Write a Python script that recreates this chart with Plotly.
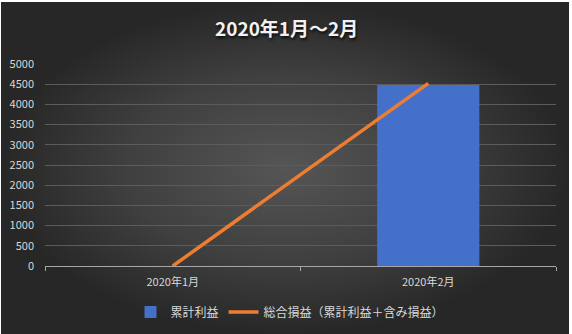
import plotly.graph_objects as go

W, H = 572, 334

categories = ["2020年1月", "2020年2月"]
cumulative_profit = [0, 4480]
total_pnl = [0, 4520]
y_ticks = [0, 500, 1000, 1500, 2000, 2500, 3000, 3500, 4000, 4500, 5000]

title_text = "2020年1月～2月"
bar_name = "累計利益"
line_name = "総合損益（累計利益＋含み損益）"

FONT = "Noto Sans CJK JP"
TXT = "#d9d9d9"

fig = go.Figure()

# decorative background panel with radial gradient (on a hidden full-page axis pair)
fig.add_trace(go.Scatter(
    x=[1, 569, 569, 1, 1], y=[0, 0, 332, 332, 0],
    xaxis="x", yaxis="y", mode="lines", line=dict(width=0),
    fill="toself",
    fillgradient=dict(type="radial",
                      colorscale=[[0, "#555555"], [0.55, "#404040"], [1, "#272727"]]),
    showlegend=False, hoverinfo="skip"))

fig.add_trace(go.Bar(
    x=categories, y=cumulative_profit, name=bar_name,
    xaxis="x2", yaxis="y2", width=0.4,
    marker=dict(color="#4470c9", line=dict(width=0))))

fig.add_trace(go.Scatter(
    x=categories, y=total_pnl, name=line_name,
    xaxis="x2", yaxis="y2", mode="lines",
    line=dict(color="#ed7d31", width=3.5)))

x0, x1 = 45 / W, 556 / W
yb, yt = (H - 266) / H, (H - 64) / H

fig.update_layout(
    width=W, height=H,
    margin=dict(l=0, r=0, t=0, b=0, autoexpand=False),
    paper_bgcolor="white", plot_bgcolor="rgba(0,0,0,0)",
    font=dict(family=FONT, color=TXT, size=11),
    showlegend=True,
    xaxis=dict(domain=[0, 1], range=[0, W], visible=False, fixedrange=True),
    yaxis=dict(domain=[0, 1], range=[0, H], visible=False, fixedrange=True),
    xaxis2=dict(domain=[x0, x1], anchor="y2", type="category",
                showline=True, linecolor="#a6a6a6", linewidth=1,
                ticks="outside", tickson="boundaries", ticklen=4, tickcolor="#a6a6a6",
                showgrid=False, tickfont=dict(size=11, color=TXT),
                ticklabelstandoff=6),
    yaxis2=dict(domain=[yb, yt], anchor="x2", range=[0, 5000],
                tickvals=y_ticks, showgrid=True, gridcolor="#5c5c5c", gridwidth=1,
                zeroline=False, showline=False, ticks="", ticklabelstandoff=10,
                tickfont=dict(size=11, color=TXT)),
    legend=dict(orientation="h", x=0.507, xanchor="center",
                y=(H - 312) / H, yanchor="middle",
                bgcolor="rgba(0,0,0,0)", font=dict(size=12, color=TXT),
                itemwidth=30, tracegroupgap=0),
    annotations=[dict(text="<b>" + title_text + "</b>", x=0.5, y=(H - 27) / H,
                      xref="paper", yref="paper", showarrow=False,
                      xanchor="center", yanchor="middle",
                      font=dict(size=19, color="#f2f2f2", family=FONT,
                                shadow="1px 2px 3px rgba(0,0,0,0.8)"))],
)

fig.write_html("out.html")
